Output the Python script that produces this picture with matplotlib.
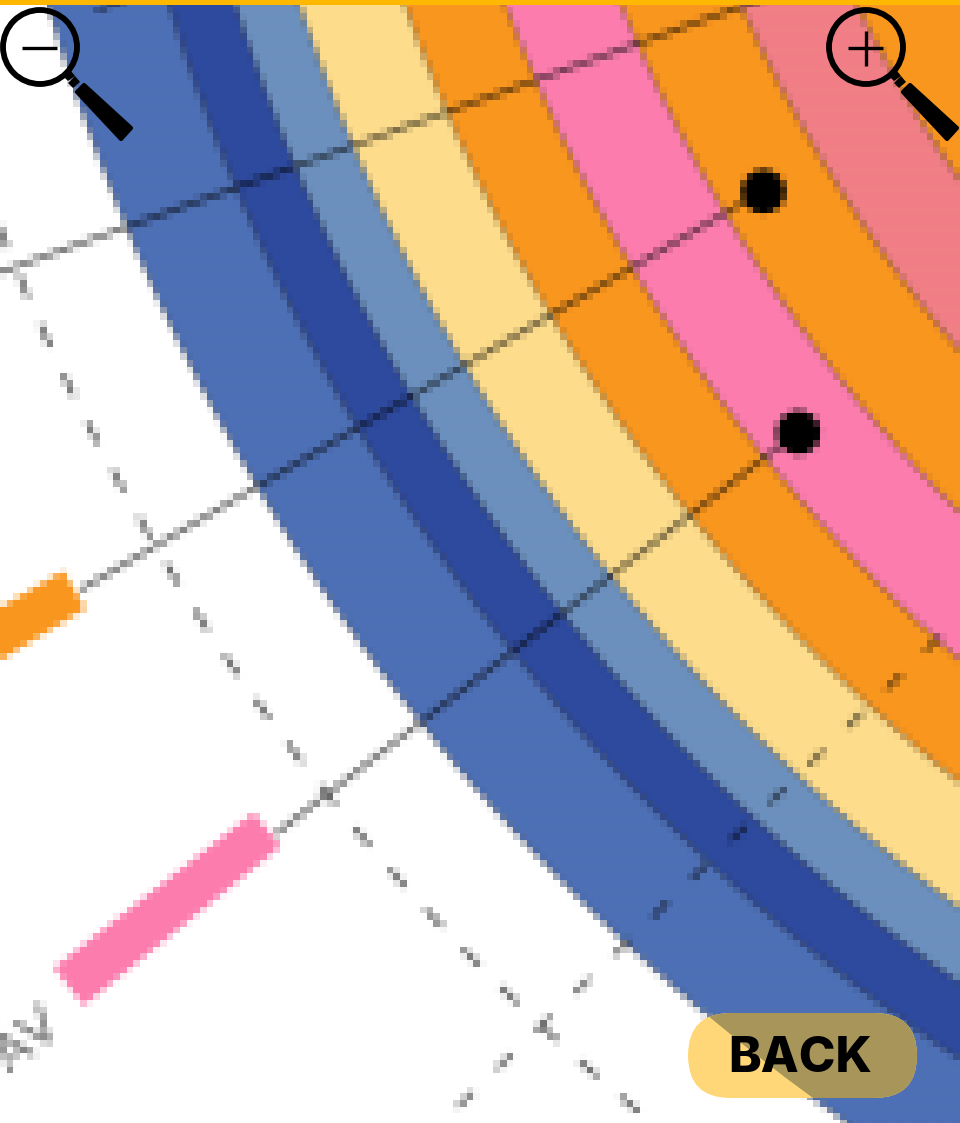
import numpy as np
import matplotlib
matplotlib.use("Agg")
import matplotlib.pyplot as plt
from matplotlib.patches import Circle, FancyBboxPatch, Polygon

# ---- data -----------------------------------------------------------------
ring_outer = [2072, 1956, 1893, 1832, 1732, 1638, 1530, 1420, 1315]
ring_names = ["blue", "navy", "steel", "sand", "amber", "pink", "amber2", "rose", "amber3"]
ring_colors = ["#4D6FB5", "#2E4A9E", "#6C90BE", "#FDDC8B", "#FA961E",
               "#FC7DAE", "#FA961E", "#F17F86", "#FA961E"]

spoke_theta_out = [196.72, 202.45, 210.71, 218.60, 226.75]
spoke_r_out = [2027, 2270, 2277, 2256, 2310]
spoke_theta_in = [196.62, 204.18, 210.93, 219.02, 227.80]
spoke_r_in = [1986, 1387, 1486, 1596, 1620]
spoke_dashed = [False, False, False, False, True]

dot_theta = [210.93, 219.02]
dot_r = [1486, 1596]

bar_theta = [210.63, 218.38]
bar_r_start = [2282, 2259]
bar_r_end = [2440, 2512]
bar_colors = ["#FA961E", "#FC7DAE"]

guide_r = 2190
label_text = "AV"
label_theta = 219.1
label_r = 2543
back_text = "BACK"

W, H = 960, 1123
CX, CY = 2038, -573
RMAX = 2600
CELL = 20 / 3


def pixelate(img, dpi):
    h, w = img.shape[:2]
    xe = np.unique(np.round(np.arange(0, w + CELL, CELL)).astype(int).clip(0, w))
    ye = np.unique(np.round(np.arange(0, h + CELL, CELL)).astype(int).clip(0, h))
    small = np.add.reduceat(np.add.reduceat(img, ye[:-1], axis=0), xe[:-1], axis=1)
    small = small / np.outer(np.diff(ye), np.diff(xe))[..., None]
    out = np.repeat(np.repeat(small, np.diff(ye), axis=0), np.diff(xe), axis=1)
    return out, 0, 0


fig = plt.figure(figsize=(W / 100, H / 100), dpi=100, facecolor="white")
ax = fig.add_axes([(CX - RMAX) / W, (H - CY - RMAX) / H, 2 * RMAX / W, 2 * RMAX / H],
                  projection="polar")
ax.set_rlim(0, RMAX)
ax.set_xticks([])
ax.set_yticks([])
ax.grid(False)
ax.spines["polar"].set_visible(False)
ax.set_agg_filter(pixelate)

th0, th1 = np.radians(185), np.radians(260)
for r, c in zip(ring_outer, ring_colors):
    ax.bar((th0 + th1) / 2, r, width=th1 - th0, bottom=0, color=c,
           edgecolor=(0.15, 0.15, 0.15, 0.45), linewidth=2.2, zorder=2)

thetas = np.radians(np.linspace(185, 260, 1200))
ax.plot(thetas, np.full_like(thetas, guide_r), color=(0, 0, 0, 0.68), lw=3.4,
        linestyle=(0.3, (5.2, 6.25)), dash_capstyle="butt", zorder=3)

for to, ro, ti, ri, dashed in zip(spoke_theta_out, spoke_r_out, spoke_theta_in,
                                  spoke_r_in, spoke_dashed):
    ls = (10.8, (4.66, 6.86)) if dashed else "-"
    ax.plot(np.radians([to, ti]), [ro, ri], color=(0, 0, 0, 0.62), lw=3.4,
            linestyle=ls, solid_capstyle="butt", dash_capstyle="butt", zorder=4)

for t, r0, r1, c in zip(bar_theta, bar_r_start, bar_r_end, bar_colors):
    ax.bar(np.radians(t), r1 - r0, width=np.radians(1.1), bottom=r0, color=c,
           linewidth=0, zorder=5)

ax.scatter(np.radians(dot_theta), dot_r, s=1000, color="black", linewidth=0, zorder=6)

ax.text(np.radians(label_theta), label_r, label_text, fontsize=38, color="#666666",
        rotation=38.4, rotation_mode="anchor", ha="right", va="baseline",
        fontfamily="Lato", zorder=5)

# ---- interface overlay, in screen pixels ----------------------------------
ui = fig.add_axes([0, 0, 1, 1], facecolor="none")
ui.set_xlim(0, W)
ui.set_ylim(H, 0)
ui.axis("off")

ui.fill_between([0, W], 0, 5, color="#FFB800", linewidth=0, zorder=10)


def magnifier(x0, plus):
    ui.add_patch(Circle((x0, 47), 37, fill=False, edgecolor="black", linewidth=4.2, zorder=10))
    ui.plot([x0 - 18, x0 + 17], [48, 48], color="black", lw=2.4, solid_capstyle="butt", zorder=10)
    if plus:
        ui.plot([x0, x0], [31, 66], color="black", lw=2.4, solid_capstyle="butt", zorder=10)
    ui.add_patch(Polygon([[x0 + 28, 83], [x0 + 35, 76], [x0 + 40, 82], [x0 + 33, 88]],
                         color="black", linewidth=0, zorder=10))
    ui.add_patch(Polygon([[x0 + 44, 85], [x0 + 91, 128], [x0 + 81, 139], [x0 + 37, 92]],
                         facecolor="black", edgecolor="black", linewidth=3,
                         joinstyle="round", zorder=10))
    ui.add_patch(Polygon([[x0 + 23, 76], [x0 + 31, 71], [x0 + 35, 76], [x0 + 28, 81]],
                         color="black", linewidth=0, zorder=10))


magnifier(40, False)
magnifier(866, True)

button = FancyBboxPatch((730.5, 1055.5), 144, 0.01,
                        boxstyle="round,pad=42.5,rounding_size=42.5",
                        facecolor="#FFD778", linewidth=0, zorder=11)
ui.add_patch(button)
shade = Circle((CX, CY), ring_outer[0], facecolor="#A8955A", linewidth=0, zorder=12)
ui.add_patch(shade)
shade.set_clip_path(button)
ui.text(800, 1054.5, back_text, fontsize=35.5, fontweight="heavy", fontfamily="Inter",
        color="black", ha="center", va="center_baseline", zorder=13)

fig.savefig("out.png", dpi=100, facecolor="white")
